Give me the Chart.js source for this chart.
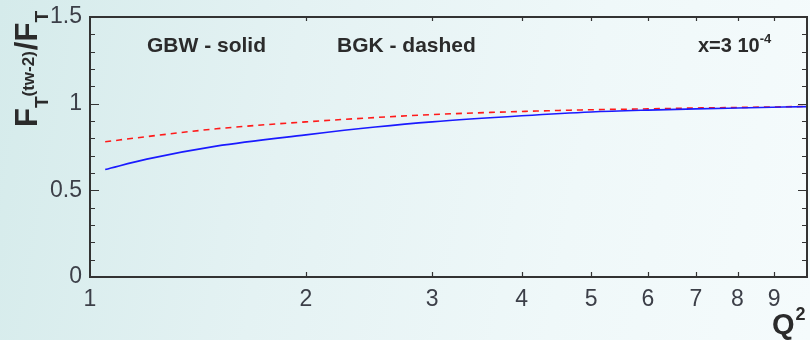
<!DOCTYPE html>
<html>
<head>
<meta charset="utf-8">
<script src="https://cdn.jsdelivr.net/npm/chart.js@4.4.1/dist/chart.umd.min.js"></script>
<style>
  html, body { margin: 0; padding: 0; }
  body {
    width: 810px; height: 340px; overflow: hidden;
    background: linear-gradient(100deg, #d5ebeb 0%, #e4f2f3 35%, #eff8f9 70%, #f5fbfc 100%);
  }
  #wrap { position: relative; width: 810px; height: 340px; }
</style>
</head>
<body>
<div id="wrap"><canvas id="myChart" width="810" height="340"></canvas></div>
<script>
// values
const q2Values = [1.05, 1.2, 1.5, 2, 2.5, 3, 4, 5, 6, 7, 8, 10];
const gbwRatio = [0.62, 0.68, 0.755, 0.82, 0.865, 0.895, 0.93, 0.952, 0.963, 0.97, 0.975, 0.983];
const bgkRatio = [0.78, 0.81, 0.855, 0.895, 0.92, 0.937, 0.955, 0.965, 0.97, 0.975, 0.978, 0.984];
const xTickLabels = ["1", "2", "3", "4", "5", "6", "7", "8", "9"];
const yTickLabels = ["0", "0.5", "1", "1.5"];
const yMinorStep = 0.1;

const textColor = "#2b2b2b";
const tickColor = "#3c3f48";

function toPoints(ys) {
  return q2Values.map((q, i) => ({ x: q, y: ys[i] }));
}

// frame with inside ticks, like the original plot
const framePlugin = {
  id: "frame",
  afterDatasetsDraw(chart) {
    const { ctx, chartArea: a, scales } = chart;
    ctx.save();
    ctx.strokeStyle = "#333";
    ctx.lineWidth = 1.2;
    ctx.beginPath();
    for (let v = 0; v <= 1.5001; v += yMinorStep) {
      const y = Math.round(scales.y.getPixelForValue(v)) + 0.5;
      const major = Math.abs(v * 2 - Math.round(v * 2)) < 1e-6;
      const len = major ? 9 : 5;
      ctx.moveTo(a.left, y); ctx.lineTo(a.left + len, y);
      ctx.moveTo(a.right, y); ctx.lineTo(a.right - len, y);
    }
    for (let q = 2; q <= 9; q++) {
      const x = Math.round(scales.x.getPixelForValue(q)) + 0.5;
      ctx.moveTo(x, a.bottom); ctx.lineTo(x, a.bottom - 5);
      ctx.moveTo(x, a.top); ctx.lineTo(x, a.top + 4);
    }
    ctx.stroke();
    ctx.lineWidth = 2;
    ctx.strokeRect(a.left, a.top, a.right - a.left, a.bottom - a.top);
    ctx.restore();
  }
};

// titles and notes with sub/superscripts
function drawRuns(ctx, runs, x0, y0) {
  let x = x0;
  for (const r of runs) {
    ctx.font = r.font;
    ctx.fillText(r.text, x, y0 + (r.dy || 0));
    x += ctx.measureText(r.text).width + (r.gap || 0);
  }
}

const textPlugin = {
  id: "texts",
  afterDraw(chart) {
    const { ctx } = chart;
    ctx.save();
    ctx.fillStyle = textColor;
    ctx.textBaseline = "alphabetic";
    ctx.textAlign = "left";
    const bold = (s) => "bold " + s + "px 'Liberation Sans', Arial, sans-serif";

    // y axis title, rotated
    ctx.save();
    ctx.translate(37, 127);
    ctx.rotate(-Math.PI / 2);
    drawRuns(ctx, [
      { text: "F", font: bold(31) },
      { text: "T", font: bold(19), dy: 11 },
      { text: "(tw-2)", font: bold(17), dy: -3, gap: 1 },
      { text: "/F", font: bold(31) },
      { text: "T", font: bold(19), dy: 11 }
    ], 0, 0);
    ctx.restore();

    // x axis title
    drawRuns(ctx, [
      { text: "Q", font: bold(29), gap: 1 },
      { text: "2", font: bold(18), dy: -14 }
    ], 772, 334);

    // notes
    drawRuns(ctx, [{ text: "GBW - solid", font: bold(21) }], 147, 52);
    drawRuns(ctx, [{ text: "BGK - dashed", font: bold(21) }], 337, 52);
    drawRuns(ctx, [
      { text: "x=3 10", font: bold(20) },
      { text: "-4", font: bold(13), dy: -9 }
    ], 698, 52);
    ctx.restore();
  }
};

new Chart(document.getElementById("myChart"), {
  type: "line",
  data: {
    datasets: [
      {
        label: "GBW",
        data: toPoints(gbwRatio),
        borderColor: "#1a1aff",
        borderWidth: 1.6,
        pointRadius: 0,
        cubicInterpolationMode: "monotone"
      },
      {
        label: "BGK",
        data: toPoints(bgkRatio),
        borderColor: "#ff1a1a",
        borderWidth: 1.6,
        borderDash: [6, 5],
        pointRadius: 0,
        cubicInterpolationMode: "monotone"
      }
    ]
  },
  options: {
    responsive: false,
    animation: false,
    layout: { padding: { top: 17, right: 3, left: 0, bottom: 0 } },
    plugins: { legend: { display: false }, tooltip: { enabled: false } },
    scales: {
      x: {
        type: "logarithmic",
        min: 1,
        max: 10,
        grid: { display: false, drawTicks: false },
        border: { display: false },
        ticks: {
          autoSkip: false,
          maxRotation: 0,
          padding: 9,
          color: tickColor,
          font: { family: "'Liberation Sans', Arial, sans-serif", size: 23 },
          callback: (v) => (xTickLabels.includes(String(v)) ? String(v) : "")
        },
        afterFit: (s) => { s.height = 63; s.paddingLeft = 0; s.paddingRight = 0; }
      },
      y: {
        min: 0,
        max: 1.5,
        grid: { display: false, drawTicks: false },
        border: { display: false },
        ticks: {
          stepSize: 0.5,
          padding: 8,
          color: tickColor,
          font: { family: "'Liberation Sans', Arial, sans-serif", size: 23 },
          callback: (v) => (yTickLabels.includes(String(v)) ? String(v) : "")
        },
        afterFit: (s) => { s.width = 90; s.paddingTop = 0; s.paddingBottom = 0; }
      }
    }
  },
  plugins: [framePlugin, textPlugin]
});
</script>
</body>
</html>
